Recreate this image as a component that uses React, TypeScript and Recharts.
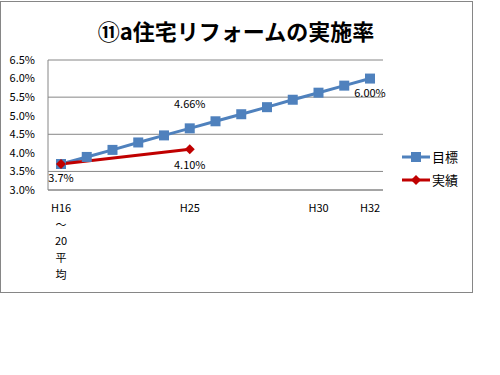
import { CartesianGrid, LabelList, Line, LineChart, XAxis, YAxis } from "recharts";

const categories = [
  "H16～20平均", "H21", "H22", "H23", "H24", "H25", "H26",
  "H27", "H28", "H29", "H30", "H31", "H32",
];
const shownTicks = ["H16～20平均", "H25", "H30", "H32"];
const target = [3.7, 3.89, 4.08, 4.28, 4.47, 4.66, 4.85, 5.04, 5.23, 5.43, 5.62, 5.81, 6.0];
const actual = [3.7, null, null, null, null, 4.1, null, null, null, null, null, null, null];
const targetLabels = ["", "", "", "", "", "4.66%", "", "", "", "", "", "", "6.00%"];
const actualLabels = ["3.7%", "", "", "", "", "4.10%", "", "", "", "", "", "", ""];
const yTicks = [3.0, 3.5, 4.0, 4.5, 5.0, 5.5, 6.0, 6.5];

const data = categories.map((name, i) => ({
  name,
  target: target[i],
  actual: actual[i],
  tLabel: targetLabels[i],
  aLabel: actualLabels[i],
}));

const FONT = "'Noto Sans CJK JP', sans-serif";
const last = categories.length - 1;

function XTick(props: any) {
  const { x, y, payload } = props;
  const v: string = payload.value;
  if (!shownTicks.includes(v)) return null;
  const lines = v === "H16～20平均" ? ["H16", "～", "20", "平", "均"] : [v];
  return (
    <g>
      {lines.map((l, i) => (
        <text key={i} x={x} y={y + 14 + i * 16.7} textAnchor="middle" fontSize={11} fill="#000" fontFamily={FONT}>
          {l}
        </text>
      ))}
    </g>
  );
}

// target: middle label above the point, end label below
function TargetLabel(props: any) {
  const { x, y, value, index } = props;
  if (!value) return null;
  const dy = index === last ? 18 : -20;
  return (
    <text x={x} y={y + dy} textAnchor="middle" fontSize={11} fill="#000" fontFamily={FONT}>
      {value}
    </text>
  );
}

function ActualLabel(props: any) {
  const { x, y, value, index } = props;
  if (!value) return null;
  const dy = index === 0 ? 18 : 20;
  return (
    <text x={x} y={y + dy} textAnchor="middle" fontSize={11} fill="#000" fontFamily={FONT}>
      {value}
    </text>
  );
}

function Square(props: any) {
  const { cx, cy } = props;
  if (cx == null || cy == null) return <g />;
  return <rect x={cx - 5} y={cy - 5} width={10} height={10} fill="#4F81BD" />;
}

function Diamond(props: any) {
  const { cx, cy, value } = props;
  if (cx == null || cy == null || value == null) return <g />;
  return <path d={`M${cx},${cy - 5}L${cx + 5},${cy}L${cx},${cy + 5}L${cx - 5},${cy}Z`} fill="#C00000" />;
}

function LegendBox() {
  return (
    <div style={{ fontFamily: FONT, fontSize: 13, color: "#000" }}>
      <div style={{ display: "flex", alignItems: "center", height: 23 }}>
        <svg width={30} height={12}>
          <line x1={0} y1={6} x2={28} y2={6} stroke="#4F81BD" strokeWidth={3} />
          <rect x={9} y={1} width={10} height={10} fill="#4F81BD" />
        </svg>
        <span>目標</span>
      </div>
      <div style={{ display: "flex", alignItems: "center", height: 23 }}>
        <svg width={30} height={12}>
          <line x1={0} y1={6} x2={28} y2={6} stroke="#C00000" strokeWidth={3} />
          <path d="M14,1L19,6L14,11L9,6Z" fill="#C00000" />
        </svg>
        <span>実績</span>
      </div>
    </div>
  );
}

export default function App() {
  return (
    <div style={{ position: "absolute", left: 0, top: 0, width: 500, height: 375, background: "#fff" }}>
      <div
        style={{
          position: "absolute", left: 0, top: 1, width: 471, height: 290,
          border: "1px solid #868686",
        }}
      />
      <div
        style={{
          position: "absolute", left: 0, top: 14, width: 472, textAlign: "center",
          fontFamily: FONT, fontWeight: "bold", fontSize: 22, color: "#000",
        }}
      >
        ⑪a住宅リフォームの実施率
      </div>
      <div style={{ position: "absolute", left: 402, top: 145 }}>
        <LegendBox />
      </div>
      <div style={{ position: "absolute", left: 0, top: 0 }}>
        <LineChart width={500} height={375} data={data} margin={{ top: 60, right: 117, bottom: 155, left: 0 }}>
          <CartesianGrid vertical={false} stroke="#868686" />
          <XAxis
            dataKey="name"
            interval={0}
            tickLine={false}
            stroke="#868686"
            height={30}
            padding={{ left: 13, right: 13 }}
            tick={<XTick />}
          />
          <YAxis
            domain={[3.0, 6.5]}
            ticks={yTicks}
            width={48}
            tickLine={false}
            stroke="#868686"
            tickMargin={7}
            tickFormatter={(v: number) => v.toFixed(1) + "%"}
            tick={{ fontSize: 11, fill: "#000", fontFamily: FONT }}
          />
          <Line
            dataKey="target"
            stroke="#4F81BD"
            strokeWidth={3}
            dot={<Square />}
            isAnimationActive={false}
          >
            <LabelList dataKey="tLabel" content={<TargetLabel />} />
          </Line>
          <Line
            dataKey="actual"
            stroke="#C00000"
            strokeWidth={3}
            connectNulls
            dot={<Diamond />}
            isAnimationActive={false}
          >
            <LabelList dataKey="aLabel" content={<ActualLabel />} />
          </Line>
        </LineChart>
      </div>
    </div>
  );
}
